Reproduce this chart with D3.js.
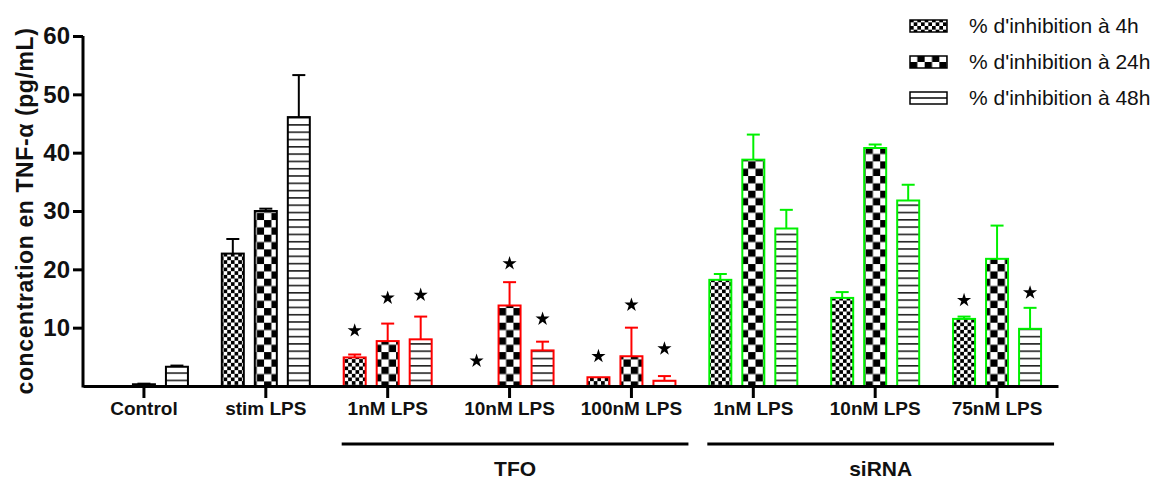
<!DOCTYPE html>
<html>
<head>
<meta charset="utf-8">
<script src="https://cdn.jsdelivr.net/npm/d3@7"></script>
<style>
  body { margin: 0; background: #fff; }
  svg { display: block; font-family: 'Liberation Sans', Arial, sans-serif; }
</style>
</head>
<body>
<svg width="1168" height="479"></svg>
<script>
let groups = ['Control', 'stim LPS', '1nM LPS', '10nM LPS', '100nM LPS', '1nM LPS ', '10nM LPS ', '75nM LPS']
let series = ['% d\'inhibition à 4h', '% d\'inhibition à 24h', '% d\'inhibition à 48h']
let groupColor = ['#000', '#000', '#ff0000', '#ff0000', '#ff0000', '#00f000', '#00f000', '#00f000']

let val4h = [0, 22.7, 4.9, 0, 1.5, 18.2, 15.1, 11.5]
let err4h = [0, 25.2, 5.4, 0, 1.5, 19.2, 16.1, 11.9]
let val24h = [0.3, 30.0, 7.7, 13.8, 5.1, 38.8, 40.8, 21.8]
let err24h = [0.4, 30.4, 10.7, 17.8, 10.0, 43.1, 41.4, 27.5]
let val48h = [3.3, 46.1, 8.0, 6.1, 0.9, 27.0, 31.8, 9.8]
let err48h = [3.5, 53.3, 11.9, 7.6, 1.7, 30.2, 34.5, 13.4]

// stars (significance) : value where the star is drawn, null = no star
let star4h = [null, null, 9.5, 4.3, 5.1, null, null, 14.7]
let star24h = [null, null, 15.1, 21.0, 13.9, null, null, null]
let star48h = [null, null, 15.6, 11.5, 6.4, null, null, 16.0]

let yTicks = [10, 20, 30, 40, 50, 60]
let brackets = [
  { label: 'TFO', from: 2, to: 4, color: '#000' },
  { label: 'siRNA', from: 5, to: 7, color: '#000' }
]

let svg = d3.select('svg')
let defs = svg.append('defs')

// patterns
let p1 = defs.append('pattern').attr('id', 'pat0')
  .attr('patternUnits', 'userSpaceOnUse').attr('width', 7.33).attr('height', 7.33)
p1.append('rect').attr('width', 7.33).attr('height', 7.33).attr('fill', '#fff')
p1.append('rect').attr('width', 3.67).attr('height', 3.67).attr('fill', '#000')
p1.append('rect').attr('x', 3.67).attr('y', 3.67).attr('width', 3.67).attr('height', 3.67).attr('fill', '#000')

let p2 = defs.append('pattern').attr('id', 'pat1')
  .attr('patternUnits', 'userSpaceOnUse').attr('width', 14.67).attr('height', 14.67)
p2.append('rect').attr('width', 14.67).attr('height', 14.67).attr('fill', '#fff')
p2.append('rect').attr('width', 7.33).attr('height', 7.33).attr('fill', '#000')
p2.append('rect').attr('x', 7.33).attr('y', 7.33).attr('width', 7.33).attr('height', 7.33).attr('fill', '#000')

let p3 = defs.append('pattern').attr('id', 'pat2')
  .attr('patternUnits', 'userSpaceOnUse').attr('width', 10).attr('height', 7.3)
p3.append('rect').attr('width', 10).attr('height', 7.3).attr('fill', '#fff')
p3.append('rect').attr('y', 0).attr('width', 10).attr('height', 1.6).attr('fill', '#222')

let y = d3.scaleLinear().domain([0, 60]).range([386, 36])
let x0 = d3.scaleBand().domain(groups).range([83, 1058])
let x1 = d3.scaleBand().domain(series).range([-49.5, 49.5]).paddingInner(1 / 3).paddingOuter(1 / 6)
let cx = i => x0(groups[i]) + x0.bandwidth() / 2

let vals = [val4h, val24h, val48h]
let errs = [err4h, err24h, err48h]
let stars = [star4h, star24h, star48h]

let rows = []
groups.forEach((g, i) => {
  series.forEach((s, j) => {
    rows.push({ g: i, s: j, v: vals[j][i], e: errs[j][i], st: stars[j][i] })
  })
})

let bars = svg.append('g')
let drawn = rows.filter(d => d.v > 0)
let mid = d => cx(d.g) + x1(series[d.s]) + x1.bandwidth() / 2

// error bars
let eb = bars.selectAll('g.err').data(drawn.filter(d => d.e > d.v)).enter().append('g')
  .attr('stroke', d => groupColor[d.g]).attr('stroke-width', 2)
eb.append('line')
  .attr('x1', mid).attr('x2', mid)
  .attr('y1', d => y(d.v)).attr('y2', d => y(d.e))
eb.append('line')
  .attr('x1', d => mid(d) - 6.5).attr('x2', d => mid(d) + 6.5)
  .attr('y1', d => y(d.e)).attr('y2', d => y(d.e))

bars.selectAll('rect').data(drawn).enter().append('rect')
  .attr('x', d => cx(d.g) + x1(series[d.s]))
  .attr('y', d => y(d.v))
  .attr('width', x1.bandwidth())
  .attr('height', d => y(0) - y(d.v))
  .attr('fill', d => 'url(#pat' + d.s + ')')
  .attr('stroke', d => groupColor[d.g])
  .attr('stroke-width', 2)

// stars
svg.append('g').selectAll('path').data(rows.filter(d => d.st != null)).enter().append('path')
  .attr('d', d3.symbol(d3.symbolStar, 62))
  .attr('transform', d => 'translate(' + mid(d) + ',' + y(d.st) + ')')
  .attr('fill', '#000')

// axes
let xAxis = svg.append('g')
  .attr('transform', 'translate(0,' + y(0) + ')')
  .call(d3.axisBottom(x0).tickSize(12).tickSizeOuter(0).tickPadding(4))
xAxis.selectAll('text').text(d => d.trim())
  .attr('font-size', 19).attr('font-weight', 'bold').attr('fill', '#111')

let yAxis = svg.append('g')
  .attr('transform', 'translate(83,0)')
  .call(d3.axisLeft(y).tickValues(yTicks).tickSize(10).tickSizeOuter(0).tickPadding(3))
yAxis.selectAll('text').attr('font-size', 24).attr('font-weight', 'bold').attr('fill', '#111')

svg.selectAll('.domain, .tick line').attr('stroke', '#000').attr('stroke-width', 3)
yAxis.select('.domain').attr('d', 'M0,' + y(60) + 'V' + (y(0) + 1.5))

svg.append('text')
  .attr('transform', 'translate(25,' + 211 + ') rotate(-90)')
  .attr('text-anchor', 'middle').attr('dy', '0.35em')
  .attr('font-size', 23).attr('font-weight', 'bold').attr('fill', '#111')
  .attr('letter-spacing', 0.6)
  .text('concentration en TNF-α  (pg/mL)')

// group brackets
let br = svg.append('g').selectAll('g').data(brackets).enter().append('g')
br.append('line')
  .attr('x1', d => cx(d.from) - 46).attr('x2', d => cx(d.to) + 57)
  .attr('y1', 444).attr('y2', 444)
  .attr('stroke', d => d.color).attr('stroke-width', 3)
br.append('text')
  .attr('x', d => (cx(d.from) - 46 + cx(d.to) + 57) / 2).attr('y', 476)
  .attr('text-anchor', 'middle').attr('font-size', 21).attr('font-weight', 'bold').attr('fill', '#111')
  .text(d => d.label)

// legend
let lg = svg.append('g').selectAll('g').data(series).enter().append('g')
  .attr('transform', (d, i) => 'translate(910,' + (26 + i * 36) + ')')
lg.append('rect').attr('x', 0).attr('y', -6).attr('width', 37).attr('height', 12)
  .attr('fill', (d, i) => i === 2 ? '#fff' : 'url(#pat' + i + ')')
  .attr('stroke', '#000').attr('stroke-width', 1.5)
lg.filter((d, i) => i === 2).append('line')
  .attr('x1', 0).attr('x2', 37).attr('y1', 0).attr('y2', 0)
  .attr('stroke', '#000').attr('stroke-width', 1.5)
lg.append('text').attr('x', 59).attr('dy', '0.35em')
  .attr('font-size', 21).attr('fill', '#111')
  .text(d => d)
</script>
</body>
</html>
